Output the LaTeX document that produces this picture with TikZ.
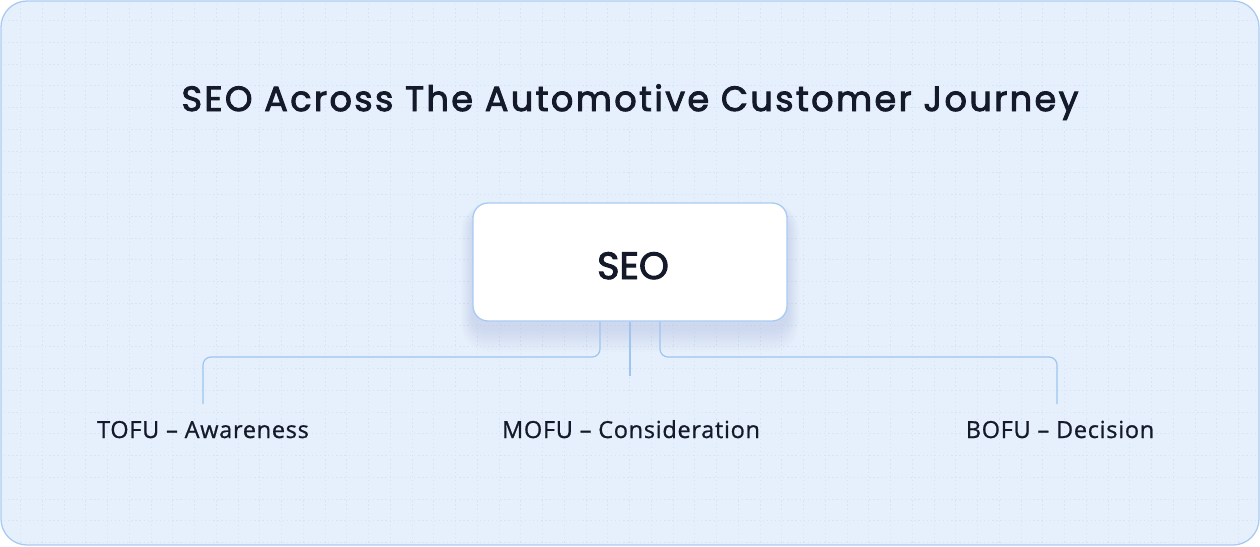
\documentclass[tikz,border=0pt]{standalone}
\usepackage{fontspec}
\setmainfont[LetterSpace=3,FakeBold=0.8]{Open Sans}
\newfontfamily\titlefont[LetterSpace=7,FakeBold=2.6]{Poppins}
\newfontfamily\boxfont[FakeBold=2.6]{Poppins}
\usetikzlibrary{calc}
\definecolor{bgfill}{HTML}{E6F0FD}
\definecolor{frame}{HTML}{A9CBF2}
\definecolor{gridc}{HTML}{D5E4F6}
\definecolor{linkc}{HTML}{9FC4EE}
\definecolor{inkc}{HTML}{141A2A}
\definecolor{shadowc}{HTML}{8FA6C6}
\tikzset{
  link/.style={draw=linkc, line width=1.2pt, rounded corners=8pt},
  stagelabel/.style={text=inkc, font=\fontsize{23.5}{27}\selectfont, anchor=base},
  gridline/.style={draw=gridc, line width=1pt, dash pattern=on 1.3pt off 2.8pt},
}
\begin{document}
\begin{tikzpicture}[x=1pt,y=-1pt]
\useasboundingbox (0,0) rectangle (1260,546);
% frame
\path[fill=bgfill] (1,1) rectangle (1259,545);
\begin{scope}
\clip[rounded corners=26pt] (1,1) rectangle (1259,545);
\foreach \i in {0,...,56} {
  \draw[gridline] ({20.7+21.75*\i},0) -- ({20.7+21.75*\i},546);
}
\foreach \j in {0,...,24} {
  \draw[gridline] (0,{20.7+21.75*\j}) -- (1260,{20.7+21.75*\j});
}
\end{scope}
\fill[white, even odd rule] (0,0) rectangle (1260,546) [rounded corners=26pt] (1,1) rectangle (1259,545);
\draw[frame, line width=1.3pt, rounded corners=26pt] (1,1) rectangle (1259,545);

% title
\node[text=inkc, font=\titlefont\fontsize{35}{40}\selectfont, anchor=base] (title) at (630,111) {SEO Across The Automotive Customer Journey};

% shadow of SEO box
\foreach \k in {1,...,12} {
  \fill[shadowc, opacity=0.02, rounded corners={15pt+\k*1pt}]
    ({473-\k*1.0},{203+10-\k*0.8}) rectangle ({787+\k*1.0},{321+8+\k*1.9});
}
% SEO box
\node[draw=frame, fill=white, line width=1.3pt, rounded corners=15pt,
      minimum width=314pt, minimum height=118pt, inner sep=0pt] (seo) at (630,262) {};
\node[text=inkc, font=\boxfont\fontsize{38}{42}\selectfont, anchor=base] (seotext) at (633,279) {SEO};

% labels
\node[stagelabel] (tofu) at (203,438) {TOFU – Awareness};
\node[stagelabel] (mofu) at (631,438) {MOFU – Consideration};
\node[stagelabel] (bofu) at (1060,438) {BOFU – Decision};

% connector ends
\coordinate (tofuTop) at (203,404);
\coordinate (bofuTop) at (1057,404);
\coordinate (mofuTop) at (630,376);

\draw[link] (seo.south -| 600,0) -- (600,357) -- (tofuTop |- 0,357) -- (tofuTop);
\draw[link] (seo.south -| 660,0) -- (660,357) -- (bofuTop |- 0,357) -- (bofuTop);
\draw[link] (seo.south) -- (mofuTop);
\end{tikzpicture}
\end{document}
